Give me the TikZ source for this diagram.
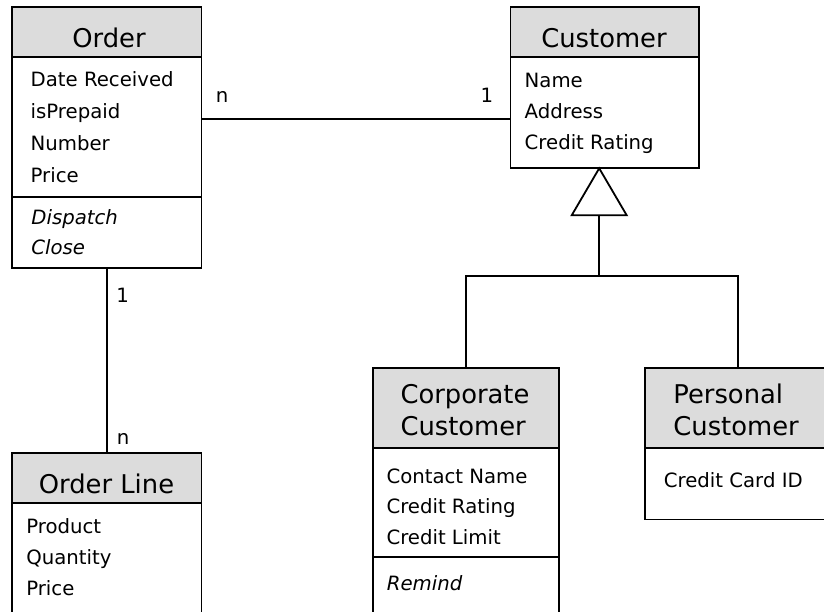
\documentclass[tikz,border=0pt]{standalone}
\usepackage{fontspec}
\setmainfont{DejaVu Sans}
\usepackage{xcolor}
\usepackage{tikz}
\usetikzlibrary{positioning}
\definecolor{headbg}{RGB}{220,220,220}

\begin{document}
\begin{tikzpicture}[x=1pt, y=-1pt, line width=1.8pt,
    head/.style={rectangle, draw, fill=headbg, inner sep=0pt, outer sep=0pt},
    comp/.style={rectangle, draw, fill=white, inner sep=0pt, outer sep=0pt},
    title/.style={anchor=base, inner sep=0pt, font=\fontsize{25.8}{32}\selectfont},
    attr/.style={anchor=base west, inner sep=0pt, font=\fontsize{19.7}{24}\selectfont},
    oper/.style={anchor=base west, inner sep=0pt, font=\fontsize{19.7}{24}\selectfont\itshape},
    mult/.style={inner sep=0pt, font=\fontsize{19.7}{24}\selectfont}
]
\useasboundingbox (0,0) rectangle (824,611);
\clip (0,0) rectangle (824,611);

% Order
\node[head, minimum width=189.5, minimum height=50] (order) at (106.8,32.3) {};
\node[comp, minimum width=189.5, minimum height=139.4, anchor=north] (orderattr) at (order.south) {};
\node[comp, minimum width=189.5, minimum height=71.6, anchor=north] (orderops) at (orderattr.south) {};
\node[title] (ordertitle) at (109,47) {Order};
\node[attr] (o1) at (29.8,86) {Date Received};
\node[attr] (o2) at (29.8,118) {isPrepaid};
\node[attr] (o3) at (29.8,150) {Number};
\node[attr] (o4) at (29.8,182) {Price};
\node[oper] (o5) at (30.5,224) {Dispatch};
\node[oper] (o6) at (30.5,254) {Close};

% Customer
\node[head, minimum width=188.5, minimum height=50] (cust) at (604.7,32.3) {};
\node[comp, minimum width=188.5, minimum height=111, anchor=north] (custattr) at (cust.south) {};
\node[title] (custtitle) at (604,47) {Customer};
\node[attr] (c1) at (523.8,87) {Name};
\node[attr] (c2) at (523.8,118) {Address};
\node[attr] (c3) at (523.8,149) {Credit Rating};

% Order Line
\node[head, minimum width=189.5, minimum height=49.4] (orderline) at (106.8,478) {};
\node[comp, minimum width=189.5, minimum height=140, anchor=north] (lineattr) at (orderline.south) {};
\node[title] (linetitle) at (106.5,493) {Order Line};
\node[attr] (l1) at (25.4,533) {Product};
\node[attr] (l2) at (25.4,564) {Quantity};
\node[attr] (l3) at (25.4,595) {Price};

% Corporate Customer
\node[head, minimum width=186.6, minimum height=80] (corphead) at (466,408.3) {};
\node[comp, minimum width=186.6, minimum height=109, anchor=north] (corpattr) at (corphead.south) {};
\node[comp, minimum width=186.6, minimum height=85, anchor=north] (corpops) at (corpattr.south) {};
\node[title, anchor=base west] (corptitle1) at (399.6,403) {Corporate};
\node[title, anchor=base west] (corptitle2) at (399.6,435) {Customer};
\node[attr] (k1) at (385.6,483) {Contact Name};
\node[attr] (k2) at (385.6,513.5) {Credit Rating};
\node[attr] (k3) at (385.6,544) {Credit Limit};
\node[oper] (k4) at (386,590) {Remind};

% Personal Customer
\node[head, minimum width=186, minimum height=80] (perhead) at (738,408.3) {};
\node[comp, minimum width=186, minimum height=71.2, anchor=north] (perattr) at (perhead.south) {};
\node[title, anchor=base west] (pertitle1) at (672.5,403) {Personal};
\node[title, anchor=base west] (pertitle2) at (672.5,435) {Customer};
\node[attr] (p1) at (663,487) {Credit Card ID};

% associations
\draw ([yshift=8]orderattr.east) -- ([yshift=8]orderattr.east -| custattr.west);
\node[mult] (m1) at (222,97) {n};
\node[mult] (m2) at (487,95.5) {1};
\draw (orderops.south) -- (orderline.north);
\node[mult] (m3) at (122.7,295) {1};
\node[mult] (m4) at (123,439) {n};

% generalization
\coordinate (apex) at ([xshift=-5.5]custattr.south);
\coordinate (genbase) at ([yshift=-47]apex);
\coordinate (fork) at ([yshift=-108]apex);
\draw[fill=white] (apex) -- ++(-27.5,47) -- ++(55,0) -- cycle;
\draw (genbase) -- (fork);
\draw (corphead.north) |- (fork) -| (perhead.north);
\end{tikzpicture}
\end{document}
